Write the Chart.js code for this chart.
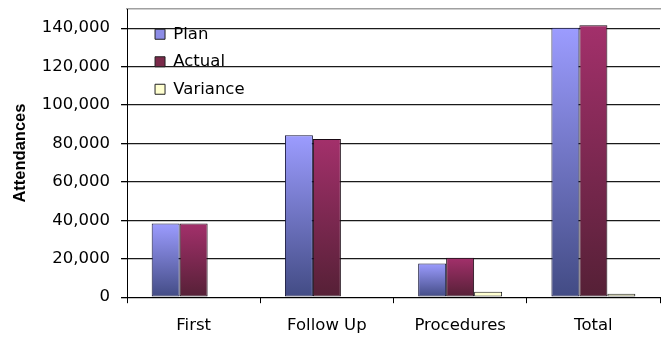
<!DOCTYPE html>
<html>
<head>
<meta charset="utf-8">
<script src="https://cdn.jsdelivr.net/npm/chart.js@4.4.1/dist/chart.umd.min.js"></script>
<style>
  html, body { margin: 0; padding: 0; background: #fff; }
  #wrap { width: 663px; height: 338px; }
</style>
</head>
<body>
<div id="wrap"><canvas id="myChart" width="663" height="338"></canvas></div>
<script>
var categories = ['First', 'Follow Up', 'Procedures', 'Total'];
var plan       = [38300, 84300, 17600, 140300];
var actual     = [38300, 82400, 20500, 141600];
var variance   = [0, 0, 2800, 1800];
var yTicks     = [0, 20000, 40000, 60000, 80000, 100000, 120000, 140000];

var FONT = "'DejaVu Sans', Arial, sans-serif";
var TITLE_FONT = "'Liberation Sans', Arial, sans-serif";

// vertical gradient per bar, light at the top and dark at the base
function barGradient(top, bottom) {
	return function (ctx) {
		var chart = ctx.chart;
		if (!chart.chartArea || ctx.type !== 'data') return top;
		var y = chart.scales.y;
		var yTop = y.getPixelForValue(ctx.raw);
		var yBase = y.getPixelForValue(0);
		if (yBase - yTop < 1) return top;
		var g = chart.ctx.createLinearGradient(0, yTop, 0, yBase);
		g.addColorStop(0, top);
		g.addColorStop(1, bottom);
		return g;
	};
}

// legend sits inside the plot, near its top left corner
var legendPlacer = {
	id: 'legendPlacer',
	beforeDraw: function (chart) {
		var lg = chart.legend;
		if (!lg) return;
		var w = lg.right - lg.left, h = lg.bottom - lg.top;
		lg.left = chart.chartArea.left + 17;
		lg.top = chart.chartArea.top + 6;
		lg.right = lg.left + w;
		lg.bottom = lg.top + h;
	}
};

var data = {
	labels: categories,
	datasets: [
		{
			label: 'Plan',
			data: plan,
			backgroundColor: barGradient('#9c9cff', '#424b84'),
			borderColor: '#14143a',
			borderWidth: 1,
			borderSkipped: false
		},
		{
			label: 'Actual',
			data: actual,
			backgroundColor: barGradient('#a3306b', '#552036'),
			borderColor: '#1a0a14',
			borderWidth: 1,
			borderSkipped: false
		},
		{
			label: 'Variance',
			data: variance,
			backgroundColor: '#ffffd0',
			borderColor: '#222',
			borderWidth: 1,
			borderSkipped: false
		}
	]
};

var options = {
	responsive: false,
	animation: false,
	layout: { padding: { top: 9, left: 11, right: 3, bottom: -11 } },
	datasets: { bar: { categoryPercentage: 0.63, barPercentage: 1.0 } },
	plugins: {
		tooltip: { enabled: false },
		legend: {
			position: 'chartArea',
			align: 'start',
			labels: {
				color: '#000',
				font: { family: FONT, size: 16.5 },
				boxWidth: 10,
				boxHeight: 10,
				padding: 11,
				generateLabels: function (chart) {
					var fills = ['#8c8ce6', '#7a2a4a', '#ffffd0'];
					return chart.data.datasets.map(function (ds, i) {
						return {
							text: ds.label,
							fillStyle: fills[i],
							strokeStyle: '#222',
							lineWidth: 1,
							datasetIndex: i,
							fontColor: '#000'
						};
					});
				}
			}
		}
	},
	scales: {
		x: {
			grid: { display: true, offset: true, drawOnChartArea: false, color: '#000', tickLength: 6 },
			border: { display: true, color: '#000', width: 1 },
			ticks: { color: '#000', font: { family: FONT, size: 16.5 }, padding: 13 }
		},
		xTop: {
			position: 'top',
			labels: categories,
			ticks: { display: false },
			grid: { display: false, drawTicks: false },
			border: { display: true, color: '#a0a0a0', width: 1.5 }
		},
		y: {
			min: 0,
			max: 150000,
			afterBuildTicks: function (axis) {
				axis.ticks = yTicks.map(function (v) { return { value: v }; });
			},
			afterFit: function (axis) {
				axis.paddingTop = 0;
				axis.paddingBottom = 0;
			},
			grid: { color: '#1a1a1a', tickColor: '#000', tickLength: 6, lineWidth: 1.3 },
			border: { display: true, color: '#000', width: 1 },
			ticks: {
				color: '#000',
				font: { family: FONT, size: 16.5 },
				padding: 11,
				callback: function (v) { return v.toLocaleString('en-US'); }
			},
			title: {
				display: true,
				text: 'Attendances',
				color: '#000',
				font: { family: TITLE_FONT, size: 16.5, weight: 'bold' },
				padding: { top: 0, bottom: 0 }
			}
		}
	}
};

window.myChart = new Chart(document.getElementById('myChart'), {
	type: 'bar',
	data: data,
	options: options,
	plugins: [legendPlacer]
});
</script>
</body>
</html>
